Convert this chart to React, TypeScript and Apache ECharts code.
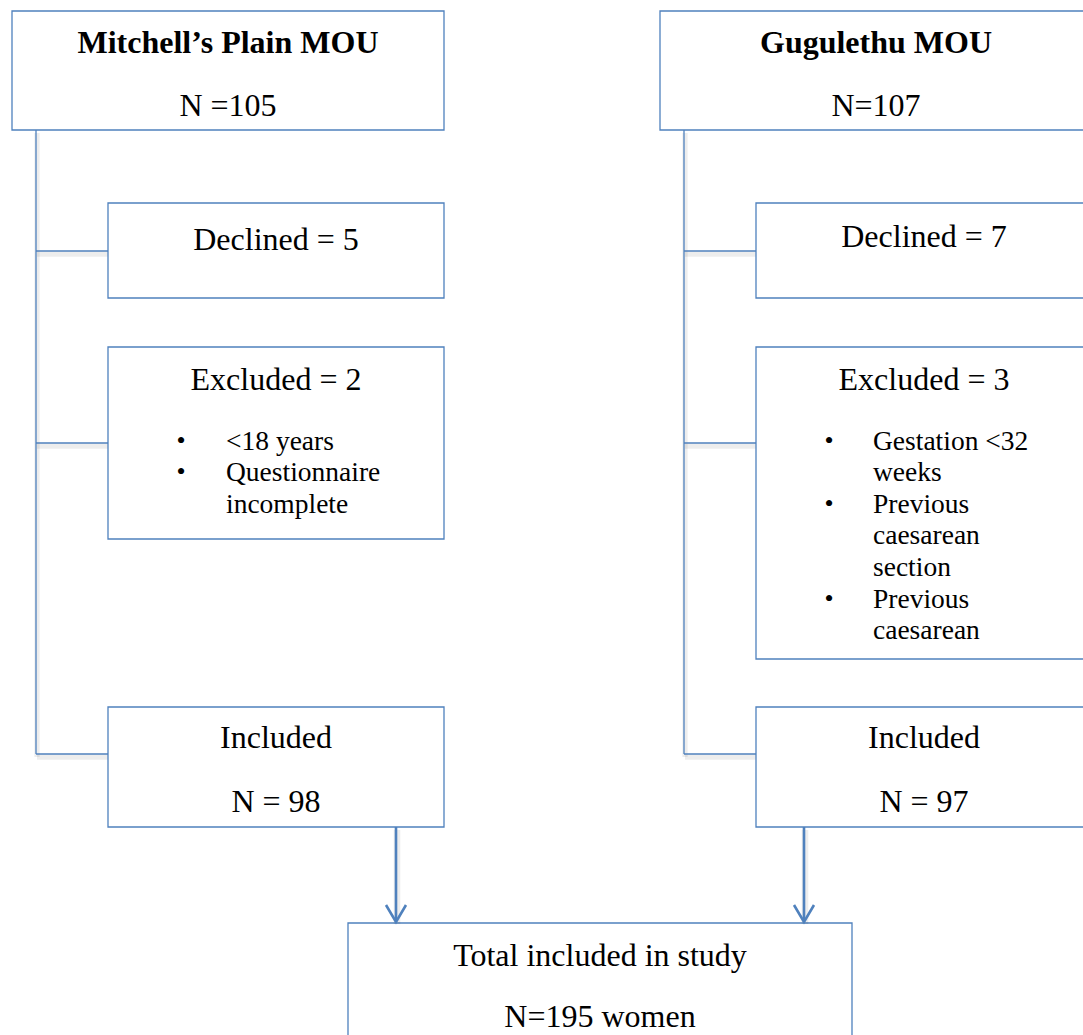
import React, { useEffect, useRef } from "react";
import * as echarts from "echarts";

// ---- Data ----
const siteNames = ["Mitchell’s Plain MOU", "Gugulethu MOU"];
const siteTotalPrefix = ["N =", "N="];
const siteTotals = [105, 107];
const declinedCounts = [5, 7];
const excludedCounts = [2, 3];
const exclusionReasons: string[][][] = [
  [["<18 years"], ["Questionnaire", "incomplete"]],
  [["Gestation <32", "weeks"], ["Previous", "caesarean", "section"], ["Previous", "caesarean"]],
];
const includedCounts = [98, 97];
const totalLabel = "Total included in study";
const totalIncluded = 195;
const totalUnit = "women";

// ---- Layout (positions / styles only) ----
const W = 1083;
const H = 1035;
const BLUE = "#4F81BD";
const SHADOW = "rgba(0,0,0,0.07)";
const FONT = "'Liberation Serif', 'Times New Roman', serif";
const colOffsets = [0, 648];
const titleCenters = [228, 876];
const childCenters = [276, 924];
const bulletXs = [181, 829];
const bulletTextXs = [226, 873];
const declinedYs = [239, 236];
const arrowXs = [396, 804];
const L = {
  titleBox: { x: 12, y: 11, w: 432, h: 119 },
  spineX: 36,
  childX: 108,
  childW: 336,
  declined: { y: 203, h: 95 },
  excluded: { y: 347, h: [192, 312] },
  included: { y: 707, h: 120 },
  total: { x: 348, y: 923, w: 504, h: 140 },
};

function buildGraphics() {
  const els: any[] = [];
  const text = (x: number, y: number, s: string, size: number, opts: any = {}) =>
    els.push({
      type: "text",
      x,
      y,
      z: 10,
      style: {
        text: s,
        fontFamily: FONT,
        fontSize: size,
        fontWeight: opts.bold ? "bold" : "normal",
        fill: "#000",
        align: opts.align || "center",
        verticalAlign: "middle",
      },
    });
  const box = (x: number, y: number, w: number, h: number) =>
    els.push({
      type: "rect",
      z: 5,
      shape: { x, y, width: w, height: h },
      style: { fill: "#fff", stroke: BLUE, lineWidth: 1.3 },
    });
  const seg = (x1: number, y1: number, x2: number, y2: number, lw: number, z: number) => {
    // soft drop shadow
    els.push({
      type: "line",
      z: z - 1,
      shape: { x1: x1 + 1, y1: y1 + 3, x2: x2 + 1, y2: y2 + 3 },
      style: { stroke: SHADOW, lineWidth: lw + 4 },
    });
    els.push({
      type: "line",
      z,
      shape: { x1, y1, x2, y2 },
      style: { stroke: BLUE, lineWidth: lw },
    });
  };

  siteNames.forEach((name, i) => {
    const dx = colOffsets[i];
    const childX = L.childX + dx;
    const spineX = L.spineX + dx;
    const exH = L.excluded.h[i];
    const declMid = L.declined.y + 48;
    const exMid = L.excluded.y + 96;
    const incMid = L.included.y + 47;

    // connectors
    seg(spineX, L.titleBox.y + L.titleBox.h, spineX, incMid, 1.3, 3);
    seg(spineX, incMid, childX, incMid, 1.3, 3);
    seg(spineX, declMid, childX, declMid, 1.3, 3);
    seg(spineX, exMid, childX, exMid, 1.3, 3);

    // title box
    box(L.titleBox.x + dx, L.titleBox.y, L.titleBox.w, L.titleBox.h);
    text(titleCenters[i], 42, name, 32, { bold: true });
    text(titleCenters[i], 105, siteTotalPrefix[i] + siteTotals[i], 32);

    const cx = childCenters[i];
    // declined
    box(childX, L.declined.y, L.childW, L.declined.h);
    text(cx, declinedYs[i], "Declined = " + declinedCounts[i], 32);

    // excluded
    box(childX, L.excluded.y, L.childW, exH);
    text(cx, 379, "Excluded = " + excludedCounts[i], 32);
    let yy = 440;
    exclusionReasons[i].forEach((reason) => {
      text(bulletXs[i], yy, "•", 26, { align: "center" });
      reason.forEach((ln) => {
        text(bulletTextXs[i], yy, ln, 27.5, { align: "left" });
        yy += 31.6;
      });
    });

    // included
    box(childX, L.included.y, L.childW, L.included.h);
    text(cx, 737, "Included", 32);
    text(cx, 801, "N = " + includedCounts[i], 32);

    // arrow to total
    const ax = arrowXs[i];
    const y0 = L.included.y + L.included.h;
    const y1 = L.total.y - 1;
    seg(ax, y0, ax, y1 - 1, 2.6, 7);
    els.push({
      type: "polyline",
      z: 7,
      shape: {
        points: [
          [ax - 10, y1 - 17],
          [ax, y1],
          [ax + 10, y1 - 17],
        ],
      },
      style: { stroke: BLUE, lineWidth: 2.6, fill: null, lineJoin: "miter" },
    });
  });

  // total box
  box(L.total.x, L.total.y, L.total.w, L.total.h);
  text(600, 955, totalLabel, 32);
  text(600, 1016, "N=" + totalIncluded + " " + totalUnit, 32);
  return els;
}

export default function App() {
  const ref = useRef<HTMLDivElement>(null);
  useEffect(() => {
    document.body.style.margin = "0";
    if (!ref.current) return;
    const chart = echarts.init(ref.current, null, { renderer: "svg" });
    chart.setOption({
      animation: false,
      backgroundColor: "#ffffff",
      graphic: { elements: buildGraphics() },
    });
    return () => chart.dispose();
  }, []);
  return <div ref={ref} style={{ width: W, height: H }} />;
}
